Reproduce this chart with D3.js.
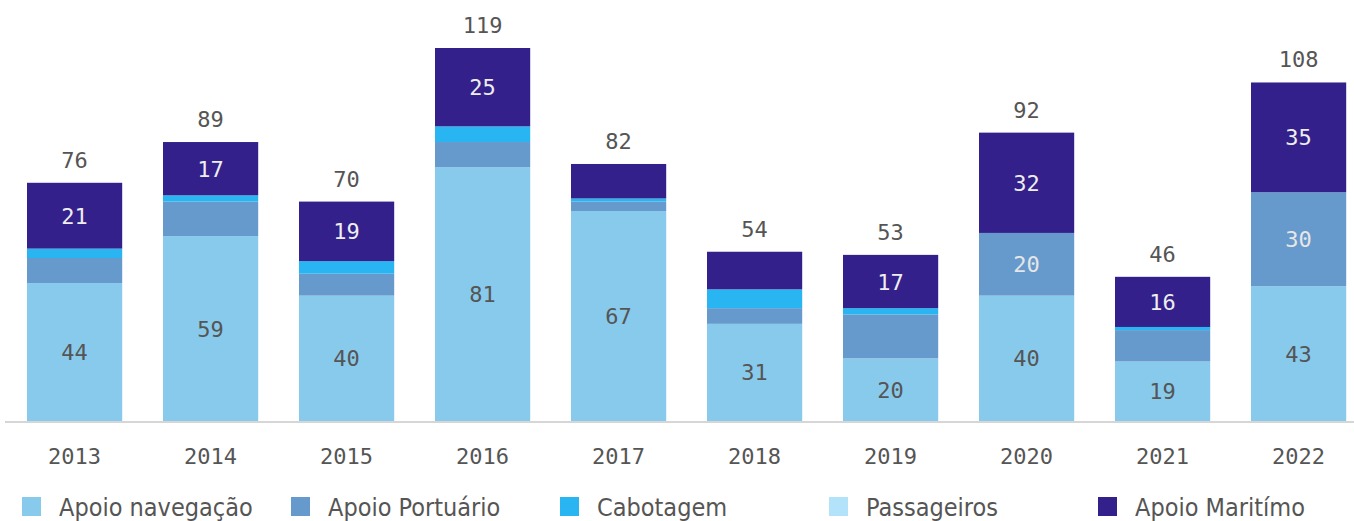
<!DOCTYPE html>
<html>
<head>
<meta charset="utf-8">
<script src="https://cdn.jsdelivr.net/npm/d3@7"></script>
<style>
  body { margin: 0; background: #fff; }
  svg { display: block; }
</style>
</head>
<body>
<svg id="chart"></svg>
<script>
const years       = ["2013", "2014", "2015", "2016", "2017", "2018", "2019", "2020", "2021", "2022"]
const navegacao   = [44, 59, 40, 81, 67, 31, 20, 40, 19, 43]
const portuario   = [8, 11, 7, 8, 3, 5, 14, 20, 10, 30]
const cabotagem   = [3, 2, 4, 5, 1, 6, 2, 0, 1, 0]
const passageiros = [0, 0, 0, 0, 0, 0, 0, 0, 0, 0]
const maritimo    = [21, 17, 19, 25, 11, 12, 17, 32, 16, 35]
const seriesNames = ["Apoio navegação", "Apoio Portuário", "Cabotagem", "Passageiros", "Apoio Maritímo"]

const width  = 1354,
    height = 521

const colors     = ["#88caec", "#6699cc", "#29b5f2", "#b3e3fa", "#33208a"]
const textColors = ["#555555", "#e6e6e6", "#ffffff", "#555555", "#eeeeee"]
const monoFont   = "'DejaVu Sans Mono', 'Liberation Mono', monospace"
const sansFont   = "'Liberation Sans Narrow', 'DejaVu Sans Condensed', 'Roboto Condensed', Roboto, sans-serif"

const svg = d3.select("#chart")
    .attr("width", width)
    .attr("height", height)

// one row per year, built from the arrays above
const keys = seriesNames
const allSeries = [navegacao, portuario, cabotagem, passageiros, maritimo]
const rows = years.map((y, i) => {
    let r = { year: y }
    keys.forEach((k, j) => r[k] = allSeries[j][i])
    return r
})
const totals = years.map((y, i) => d3.sum(allSeries, s => s[i]))

const x = d3.scaleBand()
    .domain(years)
    .range([6.6, 1366.6])
    .paddingInner(0.3)
    .paddingOuter(0.15)

const y = d3.scaleLinear()
    .domain([0, 119])
    .range([421, 48])

const stacked = d3.stack().keys(keys)(rows)

const layers = svg.selectAll("g.layer")
    .data(stacked)
    .enter()
    .append("g")
    .attr("class", "layer")
    .attr("fill", (d, i) => colors[i])

layers.selectAll("rect")
    .data(d => d)
    .enter()
    .append("rect")
    .attr("x", d => x(d.data.year))
    .attr("width", x.bandwidth())
    .attr("y", d => y(d[1]))
    .attr("height", d => y(d[0]) - y(d[1]))

// value labels inside the segments (only the larger ones)
layers.selectAll("text")
    .data(d => d.filter(p => p[1] - p[0] >= 15))
    .enter()
    .append("text")
    .attr("x", d => x(d.data.year) + x.bandwidth() / 2)
    .attr("y", d => (y(d[0]) + y(d[1])) / 2 + 8)
    .attr("text-anchor", "middle")
    .style("font-family", monoFont)
    .style("font-size", "22px")
    .attr("fill", function () {
        return textColors[stacked.indexOf(d3.select(this.parentNode).datum())]
    })
    .text(d => d[1] - d[0])

// totals above the bars
svg.selectAll("text.total")
    .data(totals)
    .enter()
    .append("text")
    .attr("class", "total")
    .attr("x", (d, i) => x(years[i]) + x.bandwidth() / 2)
    .attr("y", d => y(d) - 15)
    .attr("text-anchor", "middle")
    .style("font-family", monoFont)
    .style("font-size", "22px")
    .attr("fill", "#555")
    .text(d => d)

// x axis
const xAxis = svg.append("g")
    .attr("transform", "translate(0,422)")
    .call(d3.axisBottom(x).tickSize(0).tickPadding(0))

xAxis.select(".domain")
    .attr("d", "M5,0H1354")
    .attr("stroke", "#c8c8c8")
    .attr("stroke-width", 1.5)

xAxis.selectAll("text")
    .attr("y", 42)
    .attr("dy", null)
    .style("font-family", monoFont)
    .style("font-size", "22px")
    .attr("fill", "#555")

// legend
const legend = svg.selectAll("g.legend")
    .data(keys)
    .enter()
    .append("g")
    .attr("class", "legend")
    .attr("transform", (d, i) => `translate(${22 + i * 269},497)`)

legend.append("rect")
    .attr("width", 19)
    .attr("height", 19)
    .attr("fill", (d, i) => colors[i])

legend.append("text")
    .attr("x", 37)
    .attr("y", 19)
    .style("font-family", sansFont)
    .style("font-size", "25px")
    .attr("fill", "#555")
    .text(d => d)
</script>
</body>
</html>
